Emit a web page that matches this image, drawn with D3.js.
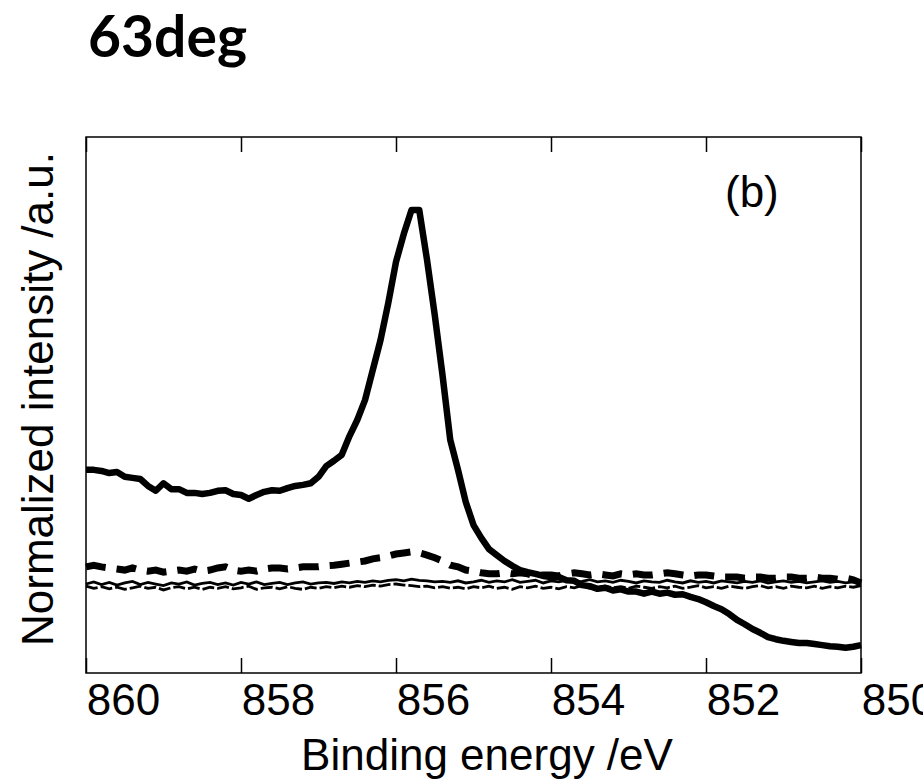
<!DOCTYPE html>
<html>
<head>
<meta charset="utf-8">
<script src="https://cdn.jsdelivr.net/npm/d3@7"></script>
<style>
  body { margin: 0; background: #fff; }
  svg { display: block; }
</style>
</head>
<body>
<div id="chart"></div>
<script>
// Binding energies (eV), 0.1 eV steps, high -> low
const energy = [
  860.0, 859.9, 859.8, 859.7, 859.6, 859.5, 859.4, 859.3, 859.2, 859.1,
  859.0, 858.9, 858.8, 858.7, 858.6, 858.5, 858.4, 858.3, 858.2, 858.1,
  858.0, 857.9, 857.8, 857.7, 857.6, 857.5, 857.4, 857.3, 857.2, 857.1,
  857.0, 856.9, 856.8, 856.7, 856.6, 856.5, 856.4, 856.3, 856.2, 856.1,
  856.0, 855.9, 855.8, 855.7, 855.6, 855.5, 855.4, 855.3, 855.2, 855.1,
  855.0, 854.9, 854.8, 854.7, 854.6, 854.5, 854.4, 854.3, 854.2, 854.1,
  854.0, 853.9, 853.8, 853.7, 853.6, 853.5, 853.4, 853.3, 853.2, 853.1,
  853.0, 852.9, 852.8, 852.7, 852.6, 852.5, 852.4, 852.3, 852.2, 852.1,
  852.0, 851.9, 851.8, 851.7, 851.6, 851.5, 851.4, 851.3, 851.2, 851.1,
  851.0, 850.9, 850.8, 850.7, 850.6, 850.5, 850.4, 850.3, 850.2, 850.1,
  850.0
];

// thick solid trace
const solidThick = [
  37.9, 37.9, 37.7, 37.3, 37.5, 36.6, 36.4, 36.2, 34.9, 34.0,
  35.4, 34.3, 34.3, 33.6, 33.6, 33.4, 33.6, 34.0, 34.1, 33.4,
  33.2, 32.5, 33.2, 33.8, 34.1, 34.0, 34.5, 34.9, 35.1, 35.4,
  36.6, 38.6, 39.6, 40.7, 44.2, 47.2, 50.9, 56.5, 62.1, 69.0,
  76.7, 81.9, 86.4, 86.4, 77.1, 66.8, 55.6, 43.5, 37.9, 31.9,
  27.6, 25.2, 23.1, 22.0, 20.9, 20.0, 19.2, 18.8, 18.5, 18.1,
  17.9, 17.9, 17.3, 17.2, 16.4, 16.2, 15.7, 15.9, 15.4, 15.6,
  15.2, 15.2, 14.8, 15.2, 14.8, 15.0, 14.6, 14.7, 14.2, 13.8,
  13.2, 12.5, 11.9, 11.0, 9.9, 9.1, 8.2, 7.5, 6.7, 6.3,
  6.0, 5.8, 5.6, 5.6, 5.4, 5.2, 5.0, 4.9, 4.7, 4.9,
  5.2
];

// thick dashed trace
const dashedThick = [
  19.8, 20.1, 19.8, 19.6, 19.4, 19.2, 19.6, 19.2, 19.0, 19.2,
  18.8, 19.0, 19.2, 19.0, 19.4, 19.0, 19.2, 19.6, 19.8, 19.2,
  19.0, 19.2, 19.0, 19.4, 19.6, 19.6, 19.4, 19.6, 19.8, 19.8,
  19.8, 20.0, 20.1, 20.3, 20.5, 20.7, 20.9, 21.3, 21.5, 21.8,
  22.2, 22.4, 22.6, 22.4, 22.0, 21.5, 20.9, 20.1, 19.8, 19.2,
  19.0, 18.7, 18.5, 18.5, 18.7, 18.5, 18.7, 18.5, 18.1, 18.3,
  18.3, 18.1, 18.5, 18.7, 18.5, 18.3, 18.5, 18.3, 18.1, 18.5,
  18.3, 18.5, 18.3, 18.3, 18.5, 18.7, 18.5, 18.3, 18.1, 18.3,
  18.3, 18.1, 17.9, 17.9, 17.9, 17.7, 17.9, 17.9, 17.7, 17.7,
  17.9, 17.9, 17.7, 17.7, 17.9, 17.7, 17.7, 17.5, 17.7, 17.4,
  16.8
];

// thin traces
const thinA = [
  16.6, 17.0, 16.5, 16.9, 16.4, 16.8, 17.1, 16.5, 16.9, 16.6,
  16.3, 16.8, 16.6, 17.0, 16.4, 16.7, 16.9, 16.5, 16.8, 16.4,
  16.9, 16.6, 17.0, 16.5, 16.7, 16.9, 16.5, 16.8, 17.0, 16.6,
  16.8, 16.9, 16.7, 17.0, 16.8, 17.1, 16.9, 17.2, 17.0, 17.3,
  17.4, 17.2, 17.5, 17.3, 17.2, 17.0, 17.1, 16.9, 17.2, 16.8,
  17.0, 17.3, 16.9, 17.2, 17.0, 17.4, 16.9, 17.1, 17.3, 16.8,
  17.2, 17.0, 17.3, 16.9, 17.1, 17.4, 17.0, 17.2, 16.9, 17.3,
  17.1, 16.8, 17.2, 17.0, 16.9, 17.3, 17.0, 16.8, 17.2, 16.9,
  17.1, 16.8, 17.2, 17.0, 16.8, 17.1, 16.9, 17.2, 16.8, 17.0,
  17.2, 16.9, 17.1, 16.8, 17.0, 17.2, 16.9, 17.1, 16.8, 17.0,
  16.7
];

const thinB = [
  16.2, 15.8, 16.1, 15.7, 16.0, 15.6, 15.9, 16.2, 15.8, 16.0,
  15.5, 15.9, 16.1, 15.7, 16.0, 15.6, 16.0, 15.8, 16.1, 15.7,
  15.9, 16.2, 15.6, 15.9, 16.0, 15.7, 16.1, 15.8, 15.6, 16.0,
  15.8, 16.1, 15.9, 16.2, 16.0, 16.3, 16.1, 16.4, 16.2, 16.5,
  16.6, 16.4, 16.3, 16.1, 16.2, 15.9, 16.1, 15.8, 16.0, 15.7,
  16.1, 15.9, 16.2, 15.8, 16.0, 15.6, 16.1, 15.9, 16.2, 15.8,
  16.0, 15.7, 16.1, 15.9, 16.3, 15.8, 16.0, 16.2, 15.9, 16.1,
  15.8, 16.2, 16.0, 15.8, 16.1, 15.9, 16.2, 15.8, 16.0, 16.3,
  15.9, 16.1, 15.8, 16.2, 16.0, 15.8, 16.1, 16.3, 15.9, 16.1,
  15.8, 16.2, 16.0, 15.9, 16.2, 15.8, 16.1, 15.9, 16.2, 16.0,
  16.3
];

const xTicks = [860, 858, 856, 854, 852, 850];

// Dimensions
var width = 923, height = 782;
var plot = {left: 86, right: 861, top: 137, bottom: 673};

var svg = d3.select("#chart")
  .append("svg")
    .attr("width", width)
    .attr("height", height);

svg.append("rect")
  .attr("width", width)
  .attr("height", height)
  .attr("fill", "#fff");

// Scales (energy axis reversed)
var x = d3.scaleLinear()
  .domain([860, 850])
  .range([plot.left, plot.right]);

var y = d3.scaleLinear()
  .domain([0, 100])
  .range([plot.bottom, plot.top]);

var font = "'Liberation Sans', Arial, Helvetica, sans-serif";

// Title
svg.append("text")
  .attr("x", 88)
  .attr("y", 57)
  .attr("font-family", "Lato, 'Open Sans', sans-serif")
  .attr("font-weight", "bold")
  .attr("font-size", 57)
  .text("63deg");

// Bottom axis (ticks inward, labels shifted as in the original)
var xAxis = svg.append("g")
  .attr("transform", "translate(0," + plot.bottom + ")")
  .call(d3.axisBottom(x)
    .tickValues(xTicks)
    .tickSizeInner(-15)
    .tickSizeOuter(0)
    .tickPadding(11)
    .tickFormat(d3.format("d")));

xAxis.selectAll("text")
  .attr("dx", 37)
  .attr("font-family", font)
  .attr("font-size", 44)
  .attr("fill", "#000");

// Top axis
svg.append("g")
  .attr("transform", "translate(0," + plot.top + ")")
  .call(d3.axisTop(x)
    .tickValues(xTicks)
    .tickSizeInner(-15)
    .tickSizeOuter(0)
    .tickFormat(""));

svg.selectAll(".domain").remove();
svg.selectAll(".tick line").attr("stroke", "#000").attr("stroke-width", 1.5);

// Frame
svg.append("rect")
  .attr("x", plot.left)
  .attr("y", plot.top)
  .attr("width", plot.right - plot.left)
  .attr("height", plot.bottom - plot.top)
  .attr("fill", "none")
  .attr("stroke", "#000")
  .attr("stroke-width", 1.5);

// Lines
function lineFor(values) {
  return d3.line()
    .x((d, i) => x(energy[i]))
    .y(d => y(d))(values);
}

svg.append("path")
  .attr("d", lineFor(thinA))
  .attr("fill", "none")
  .attr("stroke", "#000")
  .attr("stroke-width", 2.8);

svg.append("path")
  .attr("d", lineFor(thinB))
  .attr("fill", "none")
  .attr("stroke", "#000")
  .attr("stroke-width", 2.8)
  .attr("stroke-dasharray", "12,3");

svg.append("path")
  .attr("d", lineFor(dashedThick))
  .attr("fill", "none")
  .attr("stroke", "#000")
  .attr("stroke-width", 7)
  .attr("stroke-dasharray", "20,11");

svg.append("path")
  .attr("d", lineFor(solidThick))
  .attr("fill", "none")
  .attr("stroke", "#000")
  .attr("stroke-width", 6.5)
  .attr("stroke-linejoin", "round");

// Panel label
svg.append("text")
  .attr("x", 725)
  .attr("y", 207)
  .attr("font-family", font)
  .attr("font-size", 44)
  .text("(b)");

// Axis titles
svg.append("text")
  .attr("x", 487)
  .attr("y", 770)
  .attr("text-anchor", "middle")
  .attr("font-family", font)
  .attr("font-size", 44)
  .text("Binding energy /eV");

svg.append("text")
  .attr("transform", "translate(53,399) rotate(-90)")
  .attr("text-anchor", "middle")
  .attr("font-family", font)
  .attr("font-size", 44)
  .text("Normalized intensity /a.u.");
</script>
</body>
</html>
